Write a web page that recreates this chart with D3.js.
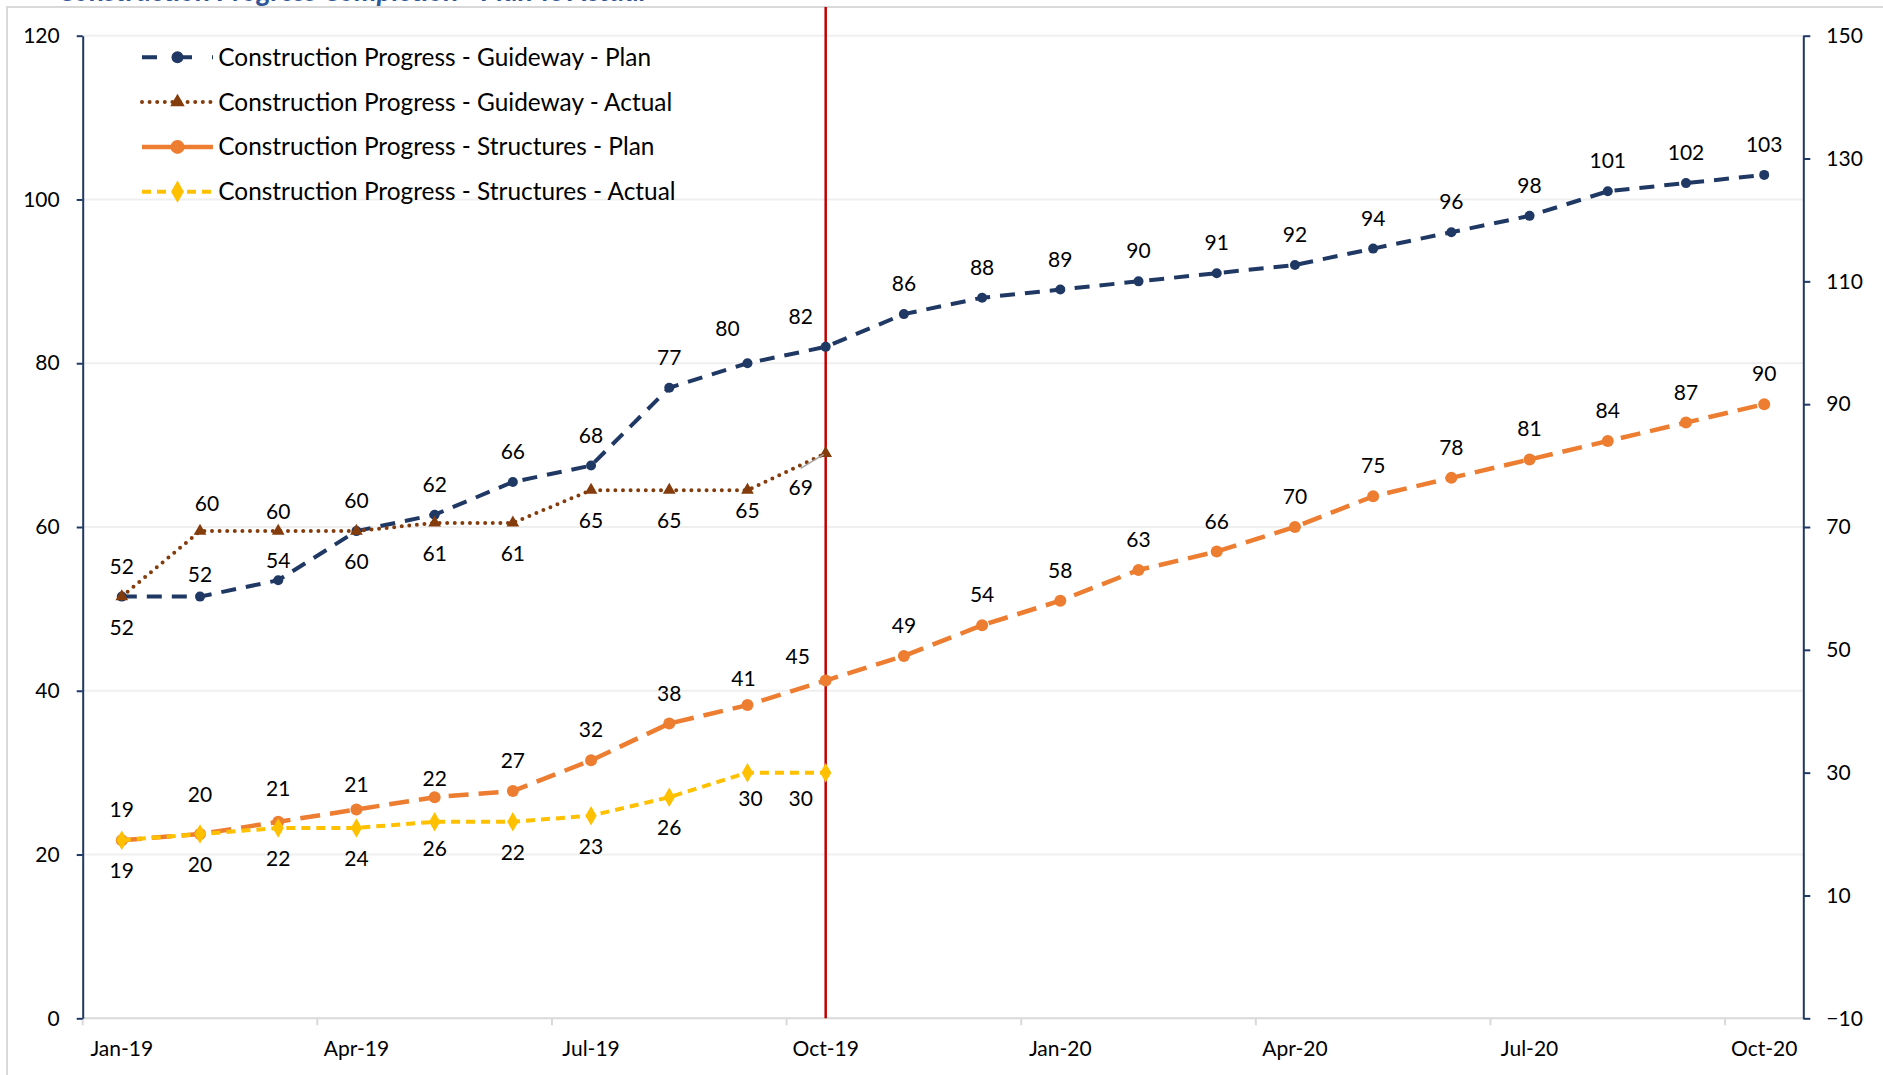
<!DOCTYPE html>
<html>
<head>
<meta charset="utf-8">
<script src="https://cdn.jsdelivr.net/npm/d3@7"></script>
<style>
  html, body { margin: 0; padding: 0; background: #ffffff; }
  #chart { width: 1883px; height: 1075px; }
</style>
</head>
<body>
<div id="chart"></div>
<script>
// Data
const months = ["Jan-19", "Feb-19", "Mar-19", "Apr-19", "May-19", "Jun-19", "Jul-19", "Aug-19", "Sep-19", "Oct-19", "Nov-19",
    "Dec-19", "Jan-20", "Feb-20", "Mar-20", "Apr-20", "May-20", "Jun-20", "Jul-20", "Aug-20", "Sep-20", "Oct-20"];
const monthTicks = ["Jan-19", "Apr-19", "Jul-19", "Oct-19", "Jan-20", "Apr-20", "Jul-20", "Oct-20"];
const statusMonth = "Oct-19";

const guidewayPlan = [51.5, 51.5, 53.5, 59.5, 61.5, 65.5, 67.5, 77, 80, 82, 86, 88, 89, 90, 91, 92, 94, 96, 98, 101, 102, 103];
const guidewayPlanLabels = [52, 52, 54, 60, 62, 66, 68, 77, 80, 82, 86, 88, 89, 90, 91, 92, 94, 96, 98, 101, 102, 103];
const guidewayActual = [51.5, 59.5, 59.5, 59.5, 60.5, 60.5, 64.5, 64.5, 64.5, 69];
const guidewayActualLabels = [52, 60, 60, 60, 61, 61, 65, 65, 65, 69];
const structuresPlan = [19, 20, 22, 24, 26, 27, 32, 38, 41, 45, 49, 54, 58, 63, 66, 70, 75, 78, 81, 84, 87, 90];
const structuresPlanLabels = [19, 20, 21, 21, 22, 27, 32, 38, 41, 45, 49, 54, 58, 63, 66, 70, 75, 78, 81, 84, 87, 90];
const structuresActual = [19, 20, 21, 21, 22, 22, 23, 26, 30, 30];
const structuresActualLabels = [19, 20, 22, 24, 26, 22, 23, 26, 30, 30];

const leftTicks = [0, 20, 40, 60, 80, 100, 120];
const rightTicks = [-10, 10, 30, 50, 70, 90, 110, 130, 150];

const FONT = "Lato, 'Open Sans', sans-serif";

// label above (a) or below (b) the point
const series = [
    {name: "Construction Progress - Guideway - Plan", values: guidewayPlan, labels: guidewayPlanLabels, axis: "left",
        color: "#203864", width: 4, dash: "15,10", legendDash: "15,20", cap: "butt", marker: "circle", msize: 5,
        place: ["b", "a", "a", "b"], defPlace: "a",
        nudge: {1: [0, 8], 2: [0, 11], 8: [-20, -4], 9: [-25, 0]}},
    {name: "Construction Progress - Guideway - Actual", values: guidewayActual, labels: guidewayActualLabels, axis: "left",
        color: "#843c0c", width: 4, dash: "0,7.6", legendDash: "0,7.6", cap: "round", marker: "triangle", msize: 70,
        place: ["a", "a", "a", "a"], defPlace: "b",
        nudge: {1: [7, 3], 2: [0, 11], 8: [0, -10], 9: [-25, 4]}},
    {name: "Construction Progress - Structures - Plan", values: structuresPlan, labels: structuresPlanLabels, axis: "right",
        color: "#ed7d31", width: 4.5, dash: "20,10", legendDash: "30,7,100", cap: "butt", marker: "circle", msize: 6,
        place: [], defPlace: "a",
        nudge: {1: [0, -9], 2: [0, -3], 3: [0, 6], 4: [0, 12], 8: [-4, 4], 9: [-28, 6]}},
    {name: "Construction Progress - Structures - Actual", values: structuresActual, labels: structuresActualLabels, axis: "right",
        color: "#ffc000", width: 4, dash: "9,6", legendDash: "9,6", cap: "butt", marker: "diamond", msize: 110,
        place: [], defPlace: "b",
        nudge: {4: [0, -4], 8: [3, -5], 9: [-25, -5]}}
];

function setupGraph() {
    const margin = {top: 35.7, right: 79.7, bottom: 56.7, left: 82.7};
    const W = 1883, H = 1075;
    const width = W - margin.left - margin.right;
    const height = H - margin.top - margin.bottom;

    const svg = d3.select("#chart").append("svg")
        .attr("width", W)
        .attr("height", H)
        .style("font-family", FONT);

    // chart area border (cut off on right / bottom)
    svg.append("rect")
        .attr("x", 7).attr("y", 7)
        .attr("width", W).attr("height", H)
        .attr("fill", "none")
        .attr("stroke", "#d9d9d9")
        .attr("stroke-width", 2);

    // title, mostly cut off at the top as in the source
    svg.append("text")
        .attr("x", 58).attr("y", 1)
        .attr("fill", "#2f5597")
        .attr("font-size", 28)
        .attr("font-style", "italic")
        .attr("font-weight", "bold")
        .text("Construction Progress Completion - Plan vs Actual");

    const g = svg.append("g")
        .attr("transform", `translate(${margin.left},${margin.top})`);

    const x = d3.scaleBand().domain(months).range([0, width]).padding(0);
    const cx = m => x(m) + x.bandwidth() / 2;
    const yL = d3.scaleLinear().domain([0, 120]).range([height, 0]);
    const yR = d3.scaleLinear().domain([-10, 150]).range([height, 0]);

    // gridlines
    g.append("g")
        .selectAll("line")
        .data(leftTicks.slice(1))
        .join("line")
        .attr("x1", 0).attr("x2", width)
        .attr("y1", d => yL(d)).attr("y2", d => yL(d))
        .attr("stroke", "#efefef")
        .attr("stroke-width", 2);

    // category axis
    g.append("line")
        .attr("x1", 0).attr("x2", width)
        .attr("y1", height).attr("y2", height)
        .attr("stroke", "#d9d9d9")
        .attr("stroke-width", 2);
    g.append("g")
        .selectAll("line")
        .data(monthTicks)
        .join("line")
        .attr("x1", d => x(d)).attr("x2", d => x(d))
        .attr("y1", height).attr("y2", height + 7)
        .attr("stroke", "#d9d9d9")
        .attr("stroke-width", 2);
    g.append("g")
        .selectAll("text")
        .data(monthTicks)
        .join("text")
        .attr("x", d => cx(d))
        .attr("y", height + 37.5)
        .attr("text-anchor", "middle")
        .attr("font-size", 21)
        .attr("fill", "#000")
        .text(d => d);

    // value axes
    const leftAxis = g.append("g")
        .call(d3.axisLeft(yL).tickValues(leftTicks).tickSize(6).tickSizeOuter(0).tickPadding(17));
    const rightAxis = g.append("g")
        .attr("transform", `translate(${width},0)`)
        .call(d3.axisRight(yR).tickValues(rightTicks).tickSize(7).tickSizeOuter(0).tickPadding(16));
    [leftAxis, rightAxis].forEach(a => {
        a.attr("font-size", 21).attr("font-family", FONT);
        a.select(".domain").attr("stroke", "#203864").attr("stroke-width", 2);
        a.selectAll(".tick line").attr("stroke", "#203864").attr("stroke-width", 2);
        a.selectAll(".tick text").attr("fill", "#000");
    });

    // status date line
    g.append("line")
        .attr("x1", cx(statusMonth)).attr("x2", cx(statusMonth))
        .attr("y1", 7 - margin.top).attr("y2", height)
        .attr("stroke", "#c00000")
        .attr("stroke-width", 2.5);

    const symbol = (type, size) => {
        if (type === "triangle") return d3.symbol(d3.symbolTriangle, size)();
        if (type === "diamond") return d3.symbol(d3.symbolDiamond, size)();
        return null;
    };

    series.forEach(s => {
        const y = s.axis === "left" ? yL : yR;
        const pts = s.values.map((v, i) => ({m: months[i], v, label: s.labels[i], i}));

        g.append("path")
            .datum(pts)
            .attr("fill", "none")
            .attr("stroke", s.color)
            .attr("stroke-width", s.width)
            .attr("stroke-dasharray", s.dash)
            .attr("stroke-linecap", s.cap)
            .attr("d", d3.line().x(d => cx(d.m)).y(d => y(d.v)));

        const mk = g.append("g").selectAll("g").data(pts).join("g")
            .attr("transform", d => `translate(${cx(d.m)},${y(d.v)})`);
        if (s.marker === "circle") {
            mk.append("circle").attr("r", s.msize).attr("fill", s.color);
        } else {
            mk.append("path").attr("d", symbol(s.marker, s.msize)).attr("fill", s.color);
        }

        g.append("g").selectAll("text").data(pts).join("text")
            .attr("x", d => cx(d.m) + (s.nudge[d.i] ? s.nudge[d.i][0] : 0))
            .attr("y", d => {
                const p = s.place[d.i] || s.defPlace;
                const off = p === "a" ? -30 : 31;
                return y(d.v) + off + (s.nudge[d.i] ? s.nudge[d.i][1] : 0) + 7;
            })
            .attr("text-anchor", "middle")
            .attr("font-size", 21)
            .attr("fill", "#000")
            .text(d => d.label);
    });

    // leader line for the last guideway actual label
    const last = guidewayActual.length - 1;
    g.append("line")
        .attr("x1", cx(months[last]) - 25).attr("y1", yL(guidewayActual[last]) + 15)
        .attr("x2", cx(months[last]) - 2).attr("y2", yL(guidewayActual[last]) + 1)
        .attr("stroke", "#a6a6a6")
        .attr("stroke-width", 1.5);

    // legend
    const legend = svg.append("g").attr("transform", "translate(142,57.3)");
    series.forEach((s, i) => {
        const row = legend.append("g").attr("transform", `translate(0,${i * 44.8})`);
        row.append("line")
            .attr("x1", 0).attr("x2", 71)
            .attr("stroke", s.color)
            .attr("stroke-width", s.width)
            .attr("stroke-dasharray", s.legendDash)
            .attr("stroke-linecap", s.cap);
        if (s.marker === "circle") {
            row.append("circle").attr("cx", 35.5).attr("r", s.msize + 1).attr("fill", s.color);
        } else {
            row.append("path").attr("transform", "translate(35.5,0)")
                .attr("d", symbol(s.marker, s.msize * 1.3)).attr("fill", s.color);
        }
        row.append("text")
            .attr("x", 76.3)
            .attr("y", 8.5)
            .attr("font-size", 24.4)
            .attr("fill", "#000")
            .text(s.name);
    });
}

setupGraph();
</script>
</body>
</html>
